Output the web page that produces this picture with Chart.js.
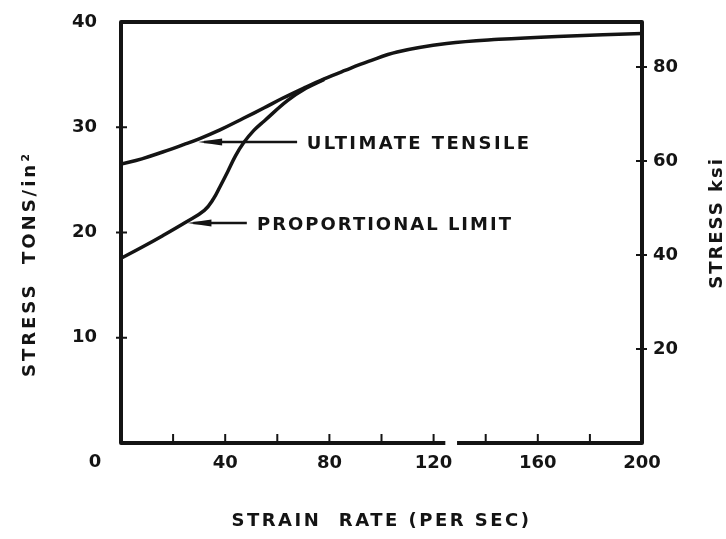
<!DOCTYPE html>
<html>
<head>
<meta charset="utf-8">
<script src="https://cdn.jsdelivr.net/npm/chart.js@4"></script>
<style>
  html, body { margin: 0; padding: 0; background: #fff; }
  #wrap { width: 726px; height: 539px; position: relative; }
</style>
</head>
<body>
<div id="wrap"><canvas id="stress-chart"></canvas></div>
<script>
// strain rate (per sec) against stress (tons/in^2)
const ultimateRate = [0, 8, 16, 24, 30, 38, 47, 55, 62, 70, 78, 86, 95, 106, 125, 145, 170, 200];
const ultimateStress = [26.5, 27.0, 27.65, 28.35, 28.9, 29.75, 30.85, 31.85, 32.75, 33.7, 34.6, 35.4, 36.25, 37.15, 37.95, 38.35, 38.65, 38.9];
const proportionalRate = [0, 8, 16, 25, 32, 35.5, 38, 41, 44, 47, 51, 55, 64, 71, 78];
const proportionalStress = [17.55, 18.6, 19.7, 21.0, 22.1, 23.2, 24.35, 25.8, 27.3, 28.5, 29.7, 30.6, 32.55, 33.7, 34.55];

const rateLabels = [40, 80, 120, 160, 200];
const tonsLabels = [10, 20, 30, 40];
const ksiLabels = [20, 40, 60, 80];
const KSI_PER_TON = 2.24; // long ton per sq in

const INK = "#141414";
const FONT = "'DejaVu Sans', sans-serif";

// arrowed labels, positions in data units
const notes = [
  { text: "ULTIMATE TENSILE", tip: [29.6, 28.6], lineEnd: 67.6, textAt: 71.3, spacing: 2.4 },
  { text: "PROPORTIONAL LIMIT", tip: [25.5, 20.9], lineEnd: 48.3, textAt: 52.2, spacing: 2 }
];
const axisBreak = [124.5, 129]; // gap in the rate axis

const pts = (xs, ys) => xs.map((v, i) => ({ x: v, y: ys[i] }));

// tick padding would otherwise push the plot top down
const trimPad = width => s => {
  s.width = width;
  s.paddingTop = 11;
  s.paddingBottom = 11;
};

const drawing = {
  id: "drawing",
  beforeDraw(chart) {
    const ctx = chart.ctx;
    ctx.save();
    ctx.fillStyle = "#fff";
    ctx.fillRect(0, 0, chart.width, chart.height);
    ctx.restore();
  },
  afterDatasetsDraw(chart) {
    const { ctx, chartArea: a, scales: { x, y, y2 } } = chart;
    ctx.save();
    ctx.strokeStyle = INK;
    ctx.fillStyle = INK;

    // frame with the break in the bottom axis
    ctx.lineWidth = 4;
    ctx.lineJoin = "round";
    ctx.beginPath();
    ctx.moveTo(x.getPixelForValue(axisBreak[0]), a.bottom);
    ctx.lineTo(a.left, a.bottom);
    ctx.lineTo(a.left, a.top);
    ctx.lineTo(a.right, a.top);
    ctx.lineTo(a.right, a.bottom);
    ctx.lineTo(x.getPixelForValue(axisBreak[1]), a.bottom);
    ctx.stroke();

    // short inward ticks
    ctx.lineWidth = 2;
    ctx.beginPath();
    x.ticks.forEach(t => {
      if (t.value <= 0 || t.value >= 200) return;
      const px = x.getPixelForValue(t.value);
      ctx.moveTo(px, a.bottom);
      ctx.lineTo(px, a.bottom - 9);
    });
    tonsLabels.forEach(v => {
      if (v >= 40) return;
      const py = y.getPixelForValue(v);
      ctx.moveTo(a.left - 5, py);
      ctx.lineTo(a.left + 6, py);
    });
    ksiLabels.forEach(v => {
      const py = y2.getPixelForValue(v);
      ctx.moveTo(a.right - 6, py);
      ctx.lineTo(a.right + 5, py);
    });
    ctx.stroke();

    // arrows and their labels
    ctx.font = "bold 18px " + FONT;
    ctx.textBaseline = "middle";
    ctx.textAlign = "left";
    notes.forEach(n => {
      const tx = x.getPixelForValue(n.tip[0]);
      const ty = y.getPixelForValue(n.tip[1]);
      const ex = x.getPixelForValue(n.lineEnd);
      ctx.lineWidth = 2.5;
      ctx.beginPath();
      ctx.moveTo(tx + 6, ty);
      ctx.lineTo(ex, ty);
      ctx.stroke();
      ctx.beginPath();
      ctx.moveTo(tx, ty);
      ctx.lineTo(tx + 24, ty - 3.5);
      ctx.lineTo(tx + 24, ty + 3.5);
      ctx.closePath();
      ctx.fill();
      ctx.letterSpacing = n.spacing + "px";
      ctx.fillText(n.text, x.getPixelForValue(n.textAt), ty + 2);
    });

    // corner zero shared by both axes
    ctx.letterSpacing = "0px";
    ctx.textAlign = "center";
    ctx.fillText("0", a.left - 26, a.bottom + 19);

    // axis titles; the vertical ones read bottom to top
    ctx.letterSpacing = "2.5px";
    ctx.fillText("STRAIN  RATE (PER SEC)", (a.left + a.right) / 2, 521);
    ctx.letterSpacing = "3px";
    ctx.save();
    ctx.translate(30, 264);
    ctx.rotate(-Math.PI / 2);
    ctx.fillText("STRESS  TONS/in\u00B2", 0, 0);
    ctx.restore();
    ctx.letterSpacing = "2px";
    ctx.save();
    ctx.translate(717, 223);
    ctx.rotate(-Math.PI / 2);
    ctx.fillText("STRESS ksi", 0, 0);
    ctx.restore();

    ctx.restore();
  }
};

const tickFont = { family: FONT, size: 18, weight: "bold" };

new Chart(document.getElementById("stress-chart").getContext("2d"), {
  type: "line",
  data: {
    datasets: [
      {
        label: "Ultimate tensile",
        data: pts(ultimateRate, ultimateStress),
        borderColor: INK,
        borderWidth: 3.5,
        pointRadius: 0,
        fill: false,
        tension: 0.4
      },
      {
        label: "Proportional limit",
        data: pts(proportionalRate, proportionalStress),
        borderColor: INK,
        borderWidth: 3.5,
        pointRadius: 0,
        fill: false,
        tension: 0.4
      }
    ]
  },
  options: {
    responsive: true,
    maintainAspectRatio: false,
    animation: false,
    layout: { padding: { top: 22, left: 0, right: 0, bottom: 0 } },
    plugins: { legend: { display: false }, tooltip: { enabled: false } },
    scales: {
      x: {
        type: "linear",
        min: 0,
        max: 200,
        border: { display: false },
        grid: { display: false, drawTicks: false },
        ticks: {
          stepSize: 20,
          autoSkip: false,
          maxRotation: 0,
          padding: 10,
          color: INK,
          font: tickFont,
          callback: v => rateLabels.includes(v) ? String(v) : ""
        },
        afterFit: s => { s.height = 96; }
      },
      y: {
        position: "left",
        min: 0,
        max: 40,
        border: { display: false },
        grid: { display: false, drawTicks: false },
        ticks: {
          stepSize: 10,
          padding: 24,
          color: INK,
          font: tickFont,
          callback: v => tonsLabels.includes(v) ? String(v) : ""
        },
        afterFit: trimPad(121)
      },
      y2: {
        position: "right",
        min: 0,
        max: 40 * KSI_PER_TON,
        border: { display: false },
        grid: { display: false, drawTicks: false },
        ticks: {
          stepSize: 20,
          padding: 11,
          color: INK,
          font: tickFont,
          callback: v => ksiLabels.includes(v) ? String(v) : ""
        },
        afterFit: trimPad(84)
      }
    }
  },
  plugins: [drawing]
});
</script>
</body>
</html>
